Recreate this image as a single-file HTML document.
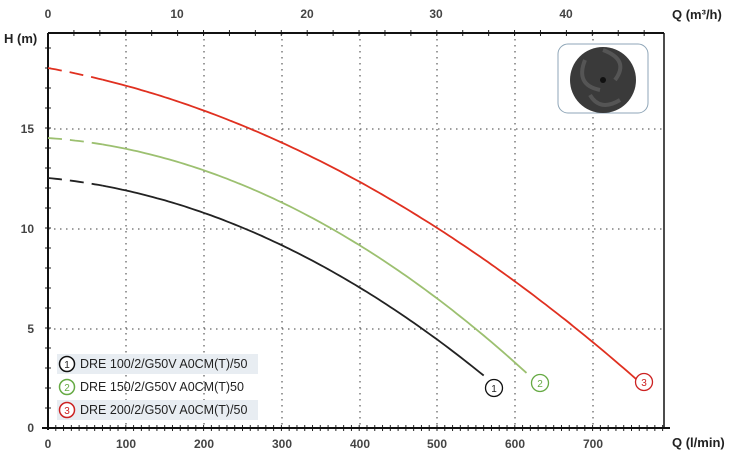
<!DOCTYPE html><html><head><style>body{margin:0;background:#fff}svg{display:block;font-family:"Liberation Sans",sans-serif}</style></head><body>
<svg id="s" width="745" height="460" viewBox="0 0 745 460">
<g stroke="#666" stroke-width="1.3" stroke-dasharray="1.5,4.5">
<line x1="126" y1="33" x2="126" y2="428"/><line x1="204" y1="33" x2="204" y2="428"/><line x1="282" y1="33" x2="282" y2="428"/><line x1="360" y1="33" x2="360" y2="428"/><line x1="437" y1="33" x2="437" y2="428"/><line x1="515" y1="33" x2="515" y2="428"/><line x1="593" y1="33" x2="593" y2="428"/>
<line x1="48" y1="129" x2="664" y2="129"/><line x1="48" y1="229" x2="664" y2="229"/><line x1="48" y1="329" x2="664" y2="329"/>
</g>
<g id="ticks" stroke="#222" stroke-width="1"></g>
<line x1="48" y1="33" x2="664" y2="33" stroke="#111" stroke-width="2"/>
<line x1="664" y1="33" x2="664" y2="428" stroke="#111" stroke-width="1.5"/>
<line x1="48" y1="33" x2="48" y2="430" stroke="#111" stroke-width="2"/>
<line x1="42" y1="428" x2="670" y2="428" stroke="#111" stroke-width="2"/>
<rect x="558" y="44" width="90" height="69" rx="10" fill="#fff" stroke="#8fa6b8"/>
<circle cx="603" cy="80" r="33" fill="#3a3a3a"/>
<g fill="none" stroke="#555" stroke-width="4"><path d="M603 50 Q630 60 615 80"/><path d="M585 60 Q575 85 600 90"/><path d="M620 100 Q600 112 590 95"/></g>
<circle cx="603" cy="80" r="3" fill="#111"/>
<g id="curves" fill="none" stroke-width="1.8"></g>
<g font-size="12" font-weight="bold" fill="#444" text-anchor="middle">
<text x="48" y="18">0</text><text x="177" y="18">10</text><text x="307" y="18">20</text><text x="436" y="18">30</text><text x="566" y="18">40</text>
<text x="48" y="448">0</text><text x="126" y="448">100</text><text x="204" y="448">200</text><text x="282" y="448">300</text><text x="360" y="448">400</text><text x="437" y="448">500</text><text x="515" y="448">600</text><text x="593" y="448">700</text>
</g>
<g font-size="12" font-weight="bold" fill="#444" text-anchor="end">
<text x="34" y="133">15</text><text x="34" y="233">10</text><text x="34" y="333">5</text><text x="34" y="432">0</text>
</g>
<g font-size="13" font-weight="bold" fill="#222">
<text x="4" y="43">H (m)</text><text x="672" y="447">Q (l/min)</text><text x="672" y="19">Q (m³/h)</text>
</g>
<rect x="57" y="354" width="201" height="20" fill="#e8edf2"/>
<rect x="57" y="400" width="201" height="20" fill="#e8edf2"/>
<g font-size="12.5" fill="#222">
<circle cx="67" cy="364" r="7.5" fill="#fff" stroke="#111" stroke-width="1.5"/><text x="67" y="368" text-anchor="middle" font-size="10">1</text><text x="80" y="368">DRE 100/2/G50V A0CM(T)/50</text>
<circle cx="67" cy="387" r="7.5" fill="#fff" stroke="#6a4" stroke-width="1.5"/><text x="67" y="391" text-anchor="middle" font-size="10" fill="#6a4">2</text><text x="80" y="391">DRE 150/2/G50V A0CM(T)50</text>
<circle cx="67" cy="410" r="7.5" fill="#fff" stroke="#c22" stroke-width="1.5"/><text x="67" y="414" text-anchor="middle" font-size="10" fill="#c22">3</text><text x="80" y="414">DRE 200/2/G50V A0CM(T)/50</text>
<circle cx="494" cy="388" r="8.5" fill="#fff" stroke="#111" stroke-width="1.3"/><text x="494" y="392" text-anchor="middle" font-size="10">1</text>
<circle cx="540" cy="383" r="8.5" fill="#fff" stroke="#6a4" stroke-width="1.3"/><text x="540" y="387" text-anchor="middle" font-size="10" fill="#6a4">2</text>
<circle cx="644" cy="382" r="8.5" fill="#fff" stroke="#c22" stroke-width="1.3"/><text x="644" y="386" text-anchor="middle" font-size="10" fill="#c22">3</text>
</g>
</svg>
<script>
var ns="http://www.w3.org/2000/svg";
function el(p,t,a){var e=document.createElementNS(ns,t);for(var k in a)e.setAttribute(k,a[k]);p.appendChild(e);return e;}
var T=document.getElementById("ticks");
for(var q=10;q<=790;q+=10){var x=48+q*0.778;if(x>668)break;el(T,"line",{x1:x,y1:425,x2:x,y2:431});}
for(var h=1;h<20;h++){var y=428-h*20;el(T,"line",{x1:45,y1:y,x2:51,y2:y});}
for(var m=2;m<=46;m+=2){var x=48+m*12.96;if(x>664)break;el(T,"line",{x1:x,y1:30,x2:x,y2:36});}
var C=document.getElementById("curves");
var cs=[[18,0.00704,1.79e-5,760,"#e03020"],[14.5,0.00274,2.66e-5,618,"#9cc070"],[12.5,0.00372,2.485e-5,564,"#222"]];
cs.forEach(function(c){
 function pt(q){return (48+q*0.778).toFixed(1)+","+(428-20*(c[0]-c[1]*q-c[2]*q*q)).toFixed(1);}
 var d1="M"+pt(0);for(var q=5;q<=70;q+=5)d1+=" L"+pt(q);
 el(C,"path",{d:d1,stroke:c[4],"stroke-dasharray":"14,8"});
 var d2="M"+pt(70);for(var q=75;q<=c[3];q+=5)d2+=" L"+pt(q);
 el(C,"path",{d:d2,stroke:c[4]});
});
</script>
</body></html>
